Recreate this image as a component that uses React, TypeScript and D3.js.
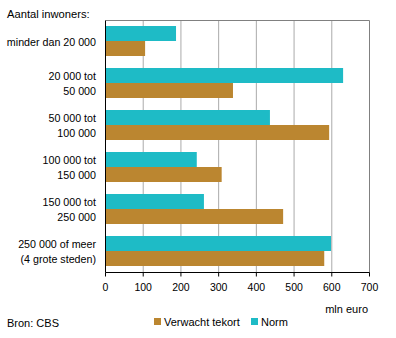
import React from "react";
import * as d3 from "d3";

const categories: string[][] = [
  ["minder dan 20 000"],
  ["20 000 tot", "50 000"],
  ["50 000 tot", "100 000"],
  ["100 000 tot", "150 000"],
  ["150 000 tot", "250 000"],
  ["250 000 of meer", "(4 grote steden)"],
];
const norm = [187, 630, 436, 242, 261, 598];
const tekort = [105, 338, 593, 308, 471, 580];
const xTicks = [0, 100, 200, 300, 400, 500, 600, 700];
const seriesNames = ["Verwacht tekort", "Norm"];

const W = 396;
const H = 338;
const M = { left: 105.5, right: 369.5, top: 20.5, bottom: 272.5 };
const TEAL = "#1EBBC6";
const BROWN = "#BB8630";
const FONT = "'Liberation Sans', Arial, sans-serif";

export default function App() {
  const x = d3.scaleLinear().domain([0, 700]).range([M.left, M.right]);
  const y = d3
    .scaleBand<number>()
    .domain(d3.range(categories.length))
    .range([M.top, M.bottom])
    .paddingInner(2 / 7)
    .paddingOuter(1 / 7);
  const sub = d3
    .scaleBand<number>()
    .domain([0, 1])
    .range([0, y.bandwidth()]);

  return (
    <div style={{ position: "absolute", left: 0, top: 0 }}>
      <svg width={W} height={H} style={{ display: "block", fontFamily: FONT }}>
        <rect x={0} y={0} width={W} height={H} fill="#fff" />
        {/* gridlines */}
        {xTicks.slice(1, -1).map((t) => (
          <line key={t} x1={x(t)} x2={x(t)} y1={M.top} y2={M.bottom} stroke="#AAAAAA" strokeWidth={1} />
        ))}
        {/* top and right border */}
        <line x1={M.left} x2={M.right} y1={M.top} y2={M.top} stroke="#808080" />
        <line x1={M.right} x2={M.right} y1={M.top} y2={M.bottom} stroke="#808080" />
        {/* bars */}
        {categories.map((_, i) => (
          <g key={i}>
            <rect
              x={x(0)}
              y={(y(i) as number) + (sub(0) as number) - 0.5}
              width={x(norm[i]) - x(0)}
              height={sub.bandwidth()}
              fill={TEAL}
            />
            <rect
              x={x(0)}
              y={(y(i) as number) + (sub(1) as number) - 0.5}
              width={x(tekort[i]) - x(0)}
              height={sub.bandwidth()}
              fill={BROWN}
            />
          </g>
        ))}
        {/* axes */}
        <line x1={M.left} x2={M.left} y1={M.top} y2={M.bottom} stroke="#000" />
        <line x1={M.left} x2={M.right} y1={M.bottom} y2={M.bottom} stroke="#000" />
        {xTicks.map((t) => (
          <g key={t}>
            <line x1={x(t)} x2={x(t)} y1={M.bottom} y2={M.bottom + 4} stroke="#000" />
            <text x={x(t)} y={291} textAnchor="middle" fontSize={10.5} fill="#000">
              {t}
            </text>
          </g>
        ))}
        {/* category labels */}
        {categories.map((lines, i) => {
          const c = (y(i) as number) + y.bandwidth() / 2;
          if (lines.length === 1) {
            return (
              <text key={i} x={96} y={c + 4} textAnchor="end" fontSize={10.7} fill="#000">
                {lines[0]}
              </text>
            );
          }
          return (
            <g key={i}>
              <text x={96} y={c - 7.5 + 4} textAnchor="end" fontSize={10.7} fill="#000">
                {lines[0]}
              </text>
              <text x={96} y={c + 7.5 + 4} textAnchor="end" fontSize={10.7} fill="#000">
                {lines[1]}
              </text>
            </g>
          );
        })}
        <text x={7} y={18} fontSize={11.2} fill="#000">Aantal inwoners:</text>
        <text x={368} y={313} textAnchor="end" fontSize={11} fill="#000">mln euro</text>
        {/* legend */}
        <rect x={154} y={318} width={7} height={7} fill={BROWN} />
        <text x={164} y={326} fontSize={11} fill="#000">{seriesNames[0]}</text>
        <rect x={251} y={318} width={7} height={7} fill={TEAL} />
        <text x={261} y={326} fontSize={11} fill="#000">{seriesNames[1]}</text>
        <text x={7} y={327} fontSize={11} fill="#000">Bron: CBS</text>
      </svg>
    </div>
  );
}
